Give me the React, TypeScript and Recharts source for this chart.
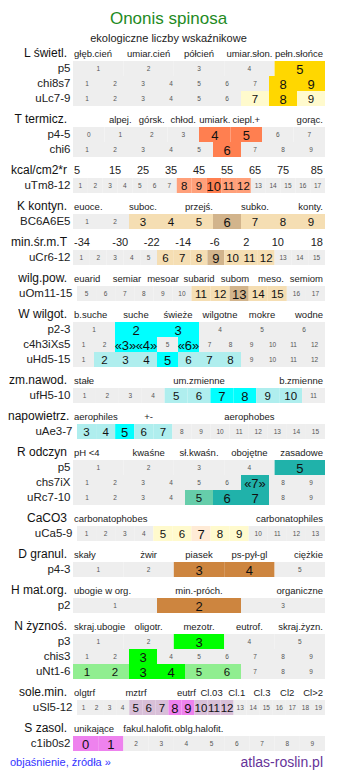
import { BarChart, Bar, XAxis, YAxis, LabelList } from 'recharts';

const FONT = '"Liberation Sans", Arial, Helvetica, sans-serif';
const GRAY = '#eeeeee';
const BAR_W = 252;
const ROW_H = 15;

const seq = (a: number, b: number) => Array.from({ length: b - a + 1 }, (_, i) => String(a + i));

// light
const lightHeads = ['głęb.cień', 'umiar.cień', 'półcień', 'umiar.słon.', 'pełn.słońce'];
const lightRows = [
  { name: 'p5', cells: seq(1, 5), marks: [0, 0, 0, 0, 2] },
  { name: 'chi8s7', cells: seq(1, 9), marks: [0, 0, 0, 0, 0, 0, 0, 2, 2] },
  { name: 'uLc7-9', cells: seq(1, 9), marks: [0, 0, 0, 0, 0, 0, 1, 2, 1] },
];

// temperature
const tempHeads = ['', 'alpej.', 'górsk.', 'chłod.', 'umiark.', 'ciepl.+', '', 'gorąc.'];
const tempRows = [
  { name: 'p4-5', cells: seq(0, 7), marks: [0, 0, 0, 0, 2, 2, 0, 0] },
  { name: 'chi6', cells: seq(1, 9), marks: [0, 0, 0, 0, 0, 2, 0, 0, 0] },
];
const kcalHeads = ['5', '15', '25', '35', '45', '55', '65', '75', '85'];
const kcalRows = [
  { name: 'uTm8-12', cells: seq(1, 17), marks: [0, 0, 0, 0, 0, 0, 0, 1, 1, 2, 1, 1, 0, 0, 0, 0, 0] },
];

// continentality
const contHeads = ['euoce.', '', 'suboc.', '', 'przejś.', '', 'subko.', '', 'konty.'];
const contRows = [{ name: 'BC6A6E5', cells: seq(1, 9), marks: [0, 0, 1, 1, 1, 2, 1, 1, 1] }];
const minTHeads = ['-34', '-30', '-22', '-14', '-6', '2', '10', '18'];
const minTRows = [
  { name: 'uCr6-12', cells: seq(1, 15), marks: [0, 0, 0, 0, 0, 1, 1, 1, 2, 1, 1, 1, 0, 0, 0] },
];
const airHumHeads = ['euarid', 'semiar', 'mesoar', 'subarid', 'subom', 'meso.', 'semiom'];
const airHumRows = [
  { name: 'uOm11-15', cells: seq(5, 17), marks: [0, 0, 0, 0, 0, 0, 1, 1, 2, 1, 1, 0, 0] },
];

// soil moisture
const wetHeads = ['b.suche', 'suche', 'świeże', 'wilgotne', 'mokre', 'wodne'];
const wetRows = [
  { name: 'p2-3', cells: seq(1, 6), marks: [0, 2, 2, 0, 0, 0] },
  {
    name: 'c4h3iXs5',
    cells: ['1', '2', '«3»', '«4»', '5', '«6»', '7', '8', '9', '10', '11', '12'],
    marks: [0, 0, 2, 2, 0, 2, 0, 0, 0, 0, 0, 0],
  },
  { name: 'uHd5-15', cells: seq(1, 12), marks: [0, 1, 1, 1, 2, 1, 1, 1, 0, 0, 0, 0] },
];
const varHeads = ['stałe', 'um.zmienne', 'b.zmienne'];
const varRows = [{ name: 'ufH5-10', cells: seq(1, 11), marks: [0, 0, 0, 0, 1, 1, 2, 2, 1, 1, 0] }];
const aerHeads = ['aerophiles', '+-', '', 'aerophobes', ''];
const aerRows = [
  { name: 'uAe3-7', cells: seq(3, 15), marks: [1, 1, 2, 1, 1, 0, 0, 0, 0, 0, 0, 0, 0] },
];

// reaction
const phHeads = ['pH <4', 'kwaśne', 'sł.kwaśn.', 'obojętne', 'zasadowe'];
const phRows = [
  { name: 'p5', cells: seq(1, 5), marks: [0, 0, 0, 0, 2] },
  { name: 'chs7iX', cells: ['1', '2', '3', '4', '5', '6', '«7»', '8', '9'], marks: [0, 0, 0, 0, 0, 0, 2, 0, 0] },
  { name: 'uRc7-10', cells: seq(1, 9), marks: [0, 0, 0, 0, 1, 2, 2, 0, 0] },
];
const caHeads = ['carbonatophobes', 'carbonatophiles'];
const caRows = [
  { name: 'uCa5-9', cells: seq(1, 13), marks: [0, 0, 0, 0, 1, 1, 2, 1, 1, 0, 0, 0, 0] },
];

// soil
const grainHeads = ['skały', 'żwir', 'piasek', 'ps-pył-gl', 'ciężkie'];
const grainRows = [{ name: 'p4-3', cells: seq(1, 5), marks: [0, 0, 2, 2, 0] }];
const humusHeads = ['ubogie w org.', 'min.-próch.', 'organiczne'];
const humusRows = [{ name: 'p2', cells: seq(1, 3), marks: [0, 2, 0] }];
const trophHeads = ['skraj.ubogie', 'oligotr.', 'mezotr.', 'eutrof.', 'skraj.żyzn.'];
const trophRows = [
  { name: 'p3', cells: seq(1, 5), marks: [0, 0, 2, 0, 0] },
  { name: 'chis3', cells: seq(1, 9), marks: [0, 0, 2, 0, 0, 0, 0, 0, 0] },
  { name: 'uNt1-6', cells: seq(1, 9), marks: [1, 1, 2, 2, 1, 1, 0, 0, 0] },
];
const saltHeads = ['olgtrf', '', 'mztrf', '', 'eutrf', 'Cl.03', 'Cl.1', 'Cl.3', 'Cl2', 'Cl>2'];
const saltRows = [
  { name: 'uSl5-12', cells: seq(1, 19), marks: [0, 0, 0, 0, 1, 1, 1, 2, 2, 1, 1, 1, 0, 0, 0, 0, 0, 0, 0] },
];
const halHeads = ['unikające', 'fakul.halofit.', 'oblg.halofit.', '', ''];
const halRows = [{ name: 'c1ib0s2', cells: seq(0, 9), marks: [2, 2, 0, 0, 0, 0, 0, 0, 0, 0] }];

type Row = { name: string; cells: string[]; marks: number[] };

const groups = [
  { title: 'L świetl.', heads: lightHeads, rows: lightRows, colors: ['#fffacd', '#ffd700'] },
  { title: 'T termicz.', heads: tempHeads, rows: tempRows, colors: ['#ffa07a', '#ff7f50'] },
  { title: 'kcal/cm2*r', heads: kcalHeads, rows: kcalRows, colors: ['#ffa07a', '#ff7f50'] },
  { title: 'K kontyn.', heads: contHeads, rows: contRows, colors: ['#f5deb3', '#d2b48c'] },
  { title: 'min.śr.m.T', heads: minTHeads, rows: minTRows, colors: ['#f5deb3', '#d2b48c'] },
  { title: 'wilg.pow.', heads: airHumHeads, rows: airHumRows, colors: ['#f5deb3', '#d2b48c'] },
  { title: 'W wilgot.', heads: wetHeads, rows: wetRows, colors: ['#afeeee', '#00ffff'] },
  { title: 'zm.nawod.', heads: varHeads, rows: varRows, colors: ['#afeeee', '#00ffff'] },
  { title: 'napowietrz.', heads: aerHeads, rows: aerRows, colors: ['#afeeee', '#00ffff'] },
  { title: 'R odczyn', heads: phHeads, rows: phRows, colors: ['#66cdaa', '#20b2aa'] },
  { title: 'CaCO3', heads: caHeads, rows: caRows, colors: ['#fffacd', '#ffebd6'] },
  { title: 'D granul.', heads: grainHeads, rows: grainRows, colors: ['#e0a870', '#cd853f'] },
  { title: 'H mat.org.', heads: humusHeads, rows: humusRows, colors: ['#e0a870', '#cd853f'] },
  { title: 'N żyznoś.', heads: trophHeads, rows: trophRows, colors: ['#90ee90', '#00ff00'] },
  { title: 'sole.min.', heads: saltHeads, rows: saltRows, colors: ['#d8bfd8', '#ee82ee'] },
  { title: 'S zasol.', heads: halHeads, rows: halRows, colors: ['#ee82ee', '#ee82ee'] },
];

// mark 0 = plain cell, 1 = range, 2 = main value
function CellText(props: any) {
  const { x, y, width, height, text, mark } = props;
  const size = mark === 2 ? 13 : mark === 1 ? 11.5 : 6.5;
  return (
    <text
      x={x + width / 2}
      y={y + height / 2 + (mark ? 0.5 : 0)}
      textAnchor="middle"
      dominantBaseline="central"
      fontFamily={FONT}
      fontSize={size}
      fill={mark ? '#111' : '#555'}
    >
      {text}
    </text>
  );
}

function CellRow({ row, colors }: { row: Row; colors: string[] }) {
  const n = row.cells.length;
  const datum: Record<string, string | number> = { name: row.name };
  row.cells.forEach((_, i) => {
    datum['c' + i] = 1;
  });
  // rows with 13 / 19 cells sit a few px further right in the original
  const inset = n === 13 || n === 19 ? 4 : 0;
  return (
    <div style={{ display: 'flex', height: ROW_H }}>
      <div
        style={{
          width: 65 + inset / 2,
          boxSizing: 'border-box',
          paddingRight: 2.5,
          textAlign: 'right',
          fontSize: 11.5,
          lineHeight: ROW_H + 'px',
          color: '#222',
          whiteSpace: 'nowrap',
        }}
      >
        {row.name}
      </div>
      <div style={{ marginLeft: inset / 2 }}>
        <BarChart
          width={BAR_W - inset}
          height={ROW_H}
          data={[datum]}
          layout="vertical"
          margin={{ top: 0, right: 0, bottom: 0, left: 0 }}
          barCategoryGap={0}
          barGap={0}
        >
          <XAxis type="number" domain={[0, n]} allowDataOverflow hide />
          <YAxis type="category" dataKey="name" hide />
          {row.cells.map((c, i) => {
            const m = row.marks[i];
            return (
              <Bar
                key={i}
                dataKey={'c' + i}
                stackId="row"
                fill={m === 0 ? GRAY : colors[m - 1]}
                isAnimationActive={false}
              >
                <LabelList content={(p: any) => <CellText {...p} text={c} mark={m} />} />
              </Bar>
            );
          })}
        </BarChart>
      </div>
    </div>
  );
}

function GroupHead({ title, heads, first }: { title: string; heads: string[]; first: boolean }) {
  const n = heads.length;
  const w = BAR_W / n;
  const numeric = heads.every((h) => h === '' || /^-?\d+$/.test(h));
  return (
    <div style={{ display: 'flex', height: ROW_H, marginTop: first ? 0 : 6 }}>
      <div
        style={{
          width: 65,
          boxSizing: 'border-box',
          paddingRight: 6,
          textAlign: 'right',
          fontSize: 12,
          lineHeight: ROW_H + 'px',
          color: '#111',
          whiteSpace: 'nowrap',
        }}
      >
        {title}
      </div>
      <div style={{ position: 'relative', width: BAR_W, height: ROW_H }}>
        {heads.map((h, i) => {
          if (!h) return null;
          const pos: React.CSSProperties =
            i === 0
              ? { left: 1 }
              : i === n - 1
              ? { right: 2 }
              : { left: w * (i + 0.5), transform: 'translateX(-50%)' };
          return (
            <span
              key={i}
              style={{
                position: 'absolute',
                top: 0,
                lineHeight: ROW_H + 'px',
                fontSize: numeric ? 11 : 9.5,
                color: '#222',
                whiteSpace: 'nowrap',
                ...pos,
              }}
            >
              {h}
            </span>
          );
        })}
      </div>
    </div>
  );
}

export default function App() {
  return (
    <div style={{ width: 321, fontFamily: FONT, background: '#fff' }}>
      <div style={{ textAlign: 'center', fontSize: 17, lineHeight: '22px', height: 22, color: '#1f8b1f' }}>
        Ononis spinosa
      </div>
      <div style={{ textAlign: 'center', fontSize: 11, lineHeight: '16px', height: 16, color: '#222' }}>
        ekologiczne liczby wskaźnikowe
      </div>
      {groups.map((g, gi) => (
        <div key={gi}>
          <GroupHead title={g.title} heads={g.heads} first={gi === 0} />
          {g.rows.map((r, ri) => (
            <CellRow key={ri} row={r} colors={g.colors} />
          ))}
        </div>
      ))}
      <div
        style={{
          display: 'flex',
          justifyContent: 'space-between',
          alignItems: 'center',
          height: 22,
          paddingLeft: 2,
          paddingRight: 6,
        }}
      >
        <span style={{ fontSize: 11, color: '#3333ff' }}>objaśnienie, źródła »</span>
        <span style={{ fontSize: 14, color: '#663399' }}>atlas-roslin.pl</span>
      </div>
    </div>
  );
}
